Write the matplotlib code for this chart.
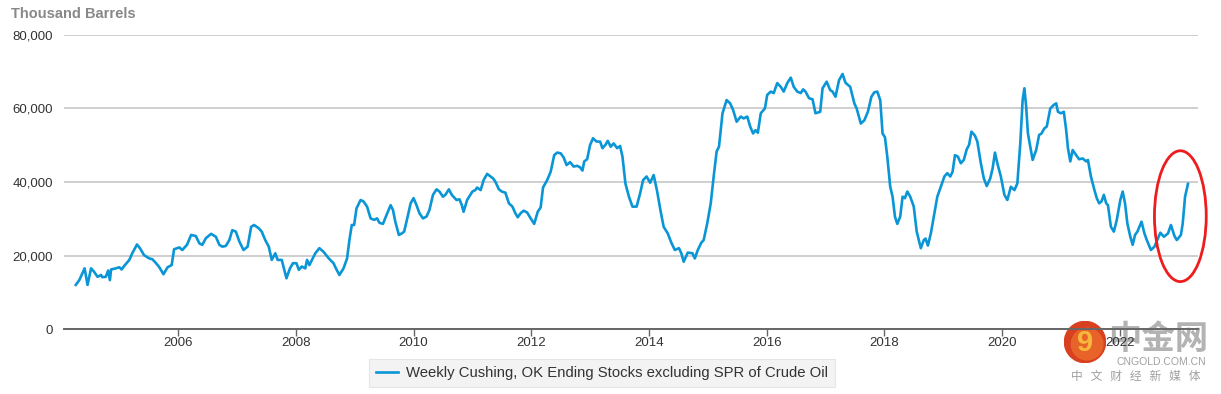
import matplotlib
matplotlib.use("Agg")
import matplotlib.pyplot as plt
from matplotlib.patches import Ellipse, Circle
from matplotlib.ticker import FuncFormatter

plt.rcParams['font.family'] = ['Liberation Sans', 'Noto Sans CJK SC', 'DejaVu Sans']

# Weekly Cushing, OK ending stocks excl. SPR (thousand barrels)
years = [
    2004.26, 2004.32, 2004.41, 2004.46, 2004.52, 2004.57, 2004.63, 2004.69, 2004.71, 2004.77,
    2004.81, 2004.84, 2004.86, 2004.94, 2005.00, 2005.04, 2005.08, 2005.17, 2005.22, 2005.30,
    2005.35, 2005.42, 2005.51, 2005.56, 2005.62, 2005.68, 2005.75, 2005.82, 2005.89, 2005.93,
    2006.02, 2006.07, 2006.15, 2006.22, 2006.30, 2006.36, 2006.41, 2006.47, 2006.56, 2006.64,
    2006.70, 2006.75, 2006.81, 2006.87, 2006.92, 2006.98, 2007.04, 2007.11, 2007.18, 2007.24,
    2007.29, 2007.37, 2007.42, 2007.48, 2007.54, 2007.59, 2007.65, 2007.69, 2007.76, 2007.84,
    2007.90, 2007.95, 2008.01, 2008.05, 2008.10, 2008.16, 2008.19, 2008.23, 2008.33, 2008.40,
    2008.47, 2008.56, 2008.64, 2008.69, 2008.74, 2008.81, 2008.87, 2008.91, 2008.95, 2008.99,
    2009.03, 2009.10, 2009.15, 2009.21, 2009.27, 2009.33, 2009.38, 2009.42, 2009.48, 2009.54,
    2009.61, 2009.65, 2009.69, 2009.75, 2009.80, 2009.84, 2009.90, 2009.95, 2010.00, 2010.05,
    2010.10, 2010.16, 2010.22, 2010.27, 2010.33, 2010.39, 2010.44, 2010.50, 2010.54, 2010.60,
    2010.65, 2010.73, 2010.78, 2010.82, 2010.85, 2010.91, 2011.00, 2011.05, 2011.08, 2011.14,
    2011.19, 2011.25, 2011.31, 2011.35, 2011.39, 2011.45, 2011.50, 2011.56, 2011.62, 2011.68,
    2011.73, 2011.77, 2011.82, 2011.87, 2011.93, 2011.99, 2012.05, 2012.11, 2012.16, 2012.20,
    2012.27, 2012.33, 2012.39, 2012.44, 2012.50, 2012.55, 2012.60, 2012.66, 2012.72, 2012.78,
    2012.83, 2012.87, 2012.90, 2012.95, 2013.00, 2013.05, 2013.11, 2013.17, 2013.21, 2013.26,
    2013.30, 2013.35, 2013.40, 2013.46, 2013.51, 2013.55, 2013.60, 2013.66, 2013.72, 2013.79,
    2013.85, 2013.90, 2013.96, 2014.02, 2014.08, 2014.14, 2014.20, 2014.25, 2014.32, 2014.38,
    2014.44, 2014.51, 2014.55, 2014.59, 2014.66, 2014.74, 2014.78, 2014.83, 2014.89, 2014.93,
    2014.99, 2015.05, 2015.10, 2015.15, 2015.19, 2015.25, 2015.32, 2015.38, 2015.43, 2015.49,
    2015.56, 2015.61, 2015.67, 2015.72, 2015.77, 2015.81, 2015.85, 2015.90, 2015.97, 2016.01,
    2016.07, 2016.12, 2016.18, 2016.24, 2016.29, 2016.35, 2016.41, 2016.46, 2016.52, 2016.58,
    2016.62, 2016.66, 2016.72, 2016.78, 2016.83, 2016.91, 2016.95, 2017.02, 2017.08, 2017.12,
    2017.17, 2017.23, 2017.29, 2017.34, 2017.42, 2017.49, 2017.53, 2017.60, 2017.66, 2017.72,
    2017.78, 2017.83, 2017.88, 2017.93, 2017.97, 2018.01, 2018.05, 2018.10, 2018.14, 2018.18,
    2018.22, 2018.27, 2018.31, 2018.35, 2018.39, 2018.44, 2018.50, 2018.55, 2018.62, 2018.67,
    2018.70, 2018.74, 2018.79, 2018.86, 2018.90, 2018.96, 2019.02, 2019.07, 2019.12, 2019.16,
    2019.20, 2019.25, 2019.30, 2019.35, 2019.40, 2019.44, 2019.48, 2019.54, 2019.58, 2019.64,
    2019.69, 2019.74, 2019.80, 2019.84, 2019.88, 2019.92, 2019.98, 2020.04, 2020.09, 2020.15,
    2020.21, 2020.26, 2020.31, 2020.35, 2020.38, 2020.41, 2020.44, 2020.48, 2020.52, 2020.58,
    2020.63, 2020.67, 2020.72, 2020.76, 2020.82, 2020.88, 2020.92, 2020.95, 2021.00, 2021.05,
    2021.09, 2021.12, 2021.16, 2021.20, 2021.26, 2021.31, 2021.37, 2021.43, 2021.46, 2021.51,
    2021.57, 2021.61, 2021.65, 2021.69, 2021.73, 2021.77, 2021.80, 2021.85, 2021.90, 2021.95,
    2022.01, 2022.05, 2022.09, 2022.13, 2022.18, 2022.22, 2022.26, 2022.30, 2022.37, 2022.42,
    2022.46, 2022.53, 2022.59, 2022.65, 2022.69, 2022.75, 2022.82, 2022.87, 2022.93, 2022.97,
    2023.04, 2023.07, 2023.11, 2023.16,
]
stocks = [
    12000, 13300, 16500, 12000, 16500, 15600, 14200, 14700, 14100, 14200,
    15900, 13300, 16200, 16500, 16800, 16200, 17100, 18800, 20600, 23000,
    22000, 20100, 19200, 19000, 18000, 16800, 14900, 16800, 17400, 21700,
    22200, 21500, 22900, 25600, 25300, 23300, 22900, 24700, 25900, 25100,
    22900, 22400, 22600, 24200, 26900, 26500, 23800, 21500, 22400, 27800,
    28300, 27400, 26500, 24200, 22400, 18800, 20600, 18800, 18800, 13800,
    16500, 17900, 17900, 16100, 17000, 16500, 18800, 17400, 20600, 22000,
    21000, 19200, 17900, 16200, 14700, 16500, 19200, 24200, 28300, 28300,
    32800, 35100, 34700, 33300, 30100, 29700, 30100, 28900, 28600, 31000,
    33700, 32400, 29200, 25600, 26000, 26500, 30600, 34200, 35600, 33700,
    31500, 30100, 30600, 32400, 36500, 38000, 37400, 36000, 36500, 38000,
    36500, 35100, 35300, 33700, 31900, 35100, 37400, 37800, 38500, 37800,
    40500, 42200, 41500, 41000, 40100, 38000, 37400, 37100, 34200, 33300,
    31500, 30400, 31500, 32200, 31700, 30100, 28600, 31900, 33100, 38500,
    40500, 42800, 47300, 48000, 47800, 46700, 44600, 45400, 44200, 44400,
    44000, 43100, 45600, 46200, 50100, 51900, 51000, 51000, 49200, 50100,
    51200, 49600, 50500, 49200, 49800, 46900, 39600, 36000, 33300, 33300,
    36900, 40500, 41500, 39800, 41900, 37400, 31900, 27800, 26000, 23500,
    21500, 22000, 20600, 18300, 20800, 20600, 19200, 21500, 23500, 24200,
    28700, 34200, 41500, 48300, 49600, 58700, 62300, 61400, 59600, 56400,
    57800, 57300, 57800, 55100, 53200, 54100, 53400, 58700, 60000, 63700,
    64600, 64200, 66900, 65900, 64600, 66900, 68400, 65900, 64600, 64200,
    65200, 64600, 62800, 62500, 58700, 59100, 65500, 67300, 65000, 64600,
    63200, 67700, 69400, 67000, 65900, 61400, 60000, 55900, 56800, 59100,
    63200, 64400, 64600, 62300, 53200, 52200, 46900, 38700, 36000, 30600,
    28600, 30600, 36000, 35600, 37400, 36000, 33300, 26500, 22000, 24200,
    24600, 22700, 26000, 32400, 36000, 38700, 41500, 42400, 41500, 42800,
    47300, 46900, 45100, 46000, 48900, 50100, 53700, 52600, 51000, 45100,
    41000, 38900, 41000, 43700, 48000, 45100, 41500, 36500, 35100, 38700,
    37800, 39600, 50500, 62300, 65500, 60500, 53200, 49600, 46000, 48700,
    52800, 53200, 54600, 55100, 60000, 61000, 61400, 59100, 58700, 59100,
    54100, 49200, 45600, 48700, 47300, 46200, 46400, 45600, 46000, 41500,
    37800, 35600, 34200, 34700, 36500, 34200, 33700, 27800, 26500, 29700,
    35100, 37400, 34200, 28700, 25100, 22900, 25600, 26500, 29200, 26000,
    24200, 21500, 22400, 24700, 26200, 25100, 26000, 28300, 25300, 24200,
    25600, 28700, 36000, 39500,
]
x_ticks = [2006, 2008, 2010, 2012, 2014, 2016, 2018, 2020, 2022]
y_ticks = [0, 20000, 40000, 60000, 80000]
series_label = "Weekly Cushing, OK Ending Stocks excluding SPR of Crude Oil"

fig = plt.figure(figsize=(12.21, 3.94), dpi=100)
ax = fig.add_axes([64 / 1221, 1 - 329 / 394, (1198 - 64) / 1221, (329 - 35) / 394])
ax.set_facecolor('none')

line, = ax.plot(years, stocks, color='#0a96d6', lw=1.9, solid_joinstyle='round',
                label=series_label, zorder=3)

ax.set_xlim(2004.06, 2023.33)
ax.set_ylim(0, 80000)
ax.set_xticks(x_ticks)
ax.set_yticks(y_ticks)
ax.yaxis.set_major_formatter(FuncFormatter(lambda v, p: f"{int(v):,}"))
ax.grid(axis='y', color='#cccccc', lw=1.3)
ax.set_axisbelow(True)
for s in ['top', 'right', 'left']:
    ax.spines[s].set_visible(False)
ax.spines['bottom'].set_color('#666666')
ax.spines['bottom'].set_linewidth(1.4)
ax.tick_params(axis='x', length=5, width=1, color='#666666', labelsize=9.5,
               labelcolor='#333333', pad=0.5)
ax.tick_params(axis='y', length=0, labelsize=9.5, labelcolor='#333333', pad=8)

# y-axis title
fig.text(11 / 1221, 1 - 14 / 394, "Thousand Barrels", fontsize=10.5, fontweight='bold',
         color='#888888', va='center', ha='left')

# red ellipse highlighting the recent build
ell = Ellipse((2023.03, 30700), width=0.88, height=35600, fill=False,
              edgecolor='#ee1c1c', lw=2.0, clip_on=False, zorder=4)
ax.add_patch(ell)

# legend
leg = fig.legend(handles=[line], loc='center', bbox_to_anchor=(602 / 1221, 1 - 373 / 394),
                 frameon=True, fancybox=False, fontsize=10.7, handlelength=1.5,
                 handletextpad=0.5, borderpad=0.45, labelcolor='#333333')
leg.get_frame().set_facecolor('#f0f0f0')
leg.get_frame().set_edgecolor('#e0e0e0')
leg.get_frame().set_linewidth(0.8)

# watermark logo (drawn beneath the chart axes)
logo_ax = fig.add_axes([1064 / 1221, 1 - 363 / 394, 42 / 1221, 42 / 394], zorder=-1)
logo_ax.set_xlim(-1, 1)
logo_ax.set_ylim(-1, 1)
logo_ax.set_aspect('equal')
logo_ax.axis('off')
logo_ax.add_patch(Circle((0, 0), 0.98, color='#d9401f'))
logo_ax.add_patch(Circle((0.1, -0.1), 0.75, color='#e8632a'))
logo_ax.text(0.0, -0.05, "9", fontsize=21, fontweight='bold', color='#f6b73c',
             ha='center', va='center')
fig.text(1158 / 1221, 1 - 339 / 394, "中金网", fontsize=24, fontweight='bold',
         color='#b3b3b3', ha='center', va='center', zorder=-1,
         family=['Noto Sans CJK SC', 'DejaVu Sans'])
fig.text(1161 / 1221, 1 - 362 / 394, "CNGOLD.COM.CN", fontsize=7.5, color='#a0a0a0',
         ha='center', va='center', zorder=-1)
fig.text(1136 / 1221, 1 - 376 / 394, "中   文   财   经   新   媒   体", fontsize=8.5,
         color='#a0a0a0', ha='center', va='center', zorder=-1,
         family=['Noto Sans CJK SC', 'DejaVu Sans'])

fig.savefig("out.png", dpi=100)
